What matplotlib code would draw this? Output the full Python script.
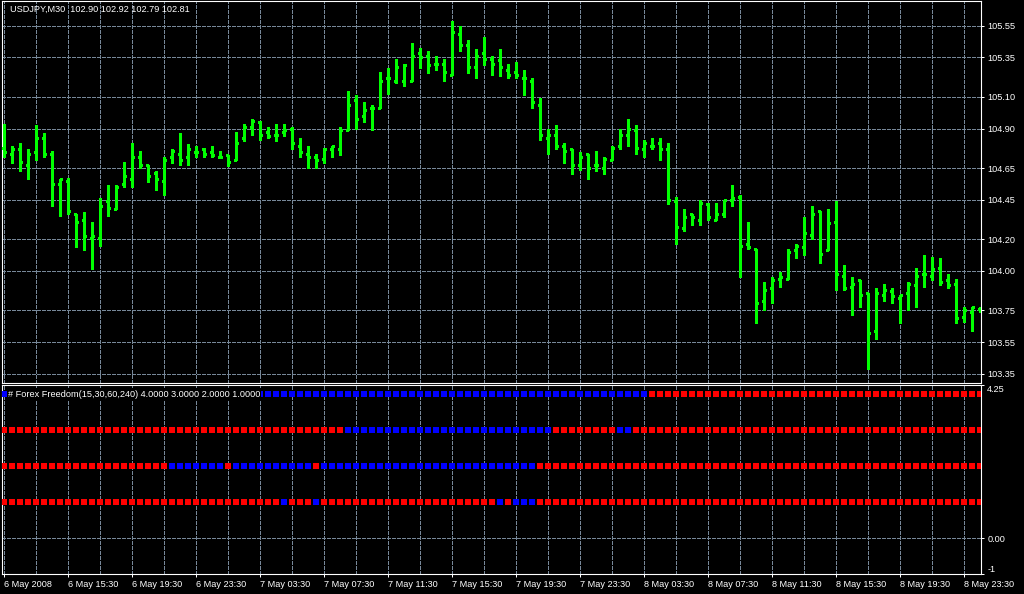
import matplotlib
matplotlib.use('Agg')
import matplotlib.pyplot as plt
import numpy as np

plt.rcParams['font.family'] = ['Liberation Sans', 'DejaVu Sans']
plt.rcParams['lines.antialiased'] = False

# USDJPY M30 bars, 6 May 2008 11:30 .. 9 May 00:30
opens = [104.78, 104.74, 104.77, 104.67, 104.75, 104.84, 104.74, 104.55, 104.57, 104.36,
         104.32, 104.21, 104.21, 104.44, 104.39, 104.55, 104.58, 104.72, 104.67, 104.62,
         104.57, 104.72, 104.74, 104.72, 104.75, 104.77, 104.75, 104.72, 104.73, 104.70,
         104.84, 104.91, 104.94, 104.88, 104.86, 104.88, 104.90, 104.79, 104.74, 104.72,
         104.71, 104.77, 104.77, 104.89, 105.08, 104.98, 105.03, 105.03, 105.22, 105.20,
         105.20, 105.20, 105.38, 105.36, 105.31, 105.31, 105.24, 105.50, 105.43, 105.29,
         105.38, 105.34, 105.33, 105.27, 105.26, 105.22, 105.20, 105.05, 104.84, 104.86,
         104.79, 104.77, 104.67, 104.74, 104.67, 104.65, 104.70, 104.79, 104.86, 104.89,
         104.77, 104.79, 104.81, 104.77, 104.44, 104.27, 104.36, 104.32, 104.42, 104.32,
         104.36, 104.45, 104.47, 104.17, 104.14, 103.81, 103.89, 103.95, 103.95, 104.13,
         104.15, 104.23, 104.38, 104.13, 104.31, 103.97, 103.90, 103.94, 103.86, 103.62,
         103.85, 103.87, 103.83, 103.86, 103.91, 103.98, 103.97, 104.02, 103.94, 103.92,
         103.71, 103.74, 103.76]
highs = [104.93, 104.79, 104.81, 104.77, 104.92, 104.87, 104.76, 104.58, 104.59, 104.36,
         104.37, 104.31, 104.46, 104.54, 104.54, 104.69, 104.81, 104.76, 104.67, 104.63,
         104.72, 104.77, 104.87, 104.80, 104.79, 104.78, 104.79, 104.76, 104.73, 104.88,
         104.93, 104.96, 104.95, 104.91, 104.93, 104.93, 104.91, 104.84, 104.79, 104.74,
         104.78, 104.79, 104.91, 105.14, 105.11, 105.07, 105.05, 105.26, 105.28, 105.34,
         105.31, 105.44, 105.41, 105.39, 105.36, 105.34, 105.58, 105.55, 105.46, 105.40,
         105.48, 105.36, 105.40, 105.31, 105.32, 105.27, 105.22, 105.09, 104.90, 104.92,
         104.81, 104.77, 104.75, 104.74, 104.76, 104.72, 104.79, 104.90, 104.96, 104.92,
         104.83, 104.84, 104.84, 104.81, 104.47, 104.39, 104.36, 104.45, 104.43, 104.43,
         104.45, 104.54, 104.48, 104.31, 104.14, 103.93, 103.96, 103.99, 104.14, 104.17,
         104.34, 104.41, 104.38, 104.39, 104.44, 104.04, 103.96, 103.94, 103.86, 103.89,
         103.92, 103.89, 103.85, 103.93, 104.02, 104.10, 104.09, 104.08, 103.98, 103.95,
         103.77, 103.77, 103.77]
lows = [104.72, 104.68, 104.63, 104.58, 104.70, 104.72, 104.41, 104.35, 104.36, 104.15,
        104.13, 104.01, 104.16, 104.35, 104.39, 104.53, 104.53, 104.65, 104.56, 104.51,
        104.48, 104.68, 104.67, 104.67, 104.72, 104.72, 104.72, 104.72, 104.66, 104.70,
        104.82, 104.86, 104.83, 104.84, 104.82, 104.85, 104.77, 104.72, 104.65, 104.65,
        104.68, 104.72, 104.73, 104.89, 104.90, 104.94, 104.89, 105.03, 105.12, 105.19,
        105.17, 105.20, 105.28, 105.25, 105.27, 105.20, 105.24, 105.39, 105.25, 105.22,
        105.30, 105.24, 105.23, 105.22, 105.22, 105.11, 105.03, 104.83, 104.74, 104.77,
        104.68, 104.61, 104.64, 104.58, 104.63, 104.61, 104.70, 104.77, 104.79, 104.74,
        104.72, 104.77, 104.70, 104.42, 104.17, 104.25, 104.29, 104.29, 104.32, 104.32,
        104.34, 104.41, 103.96, 104.14, 103.67, 103.75, 103.80, 103.90, 103.95, 104.08,
        104.10, 104.20, 104.05, 104.13, 103.88, 103.88, 103.72, 103.77, 103.38, 103.57,
        103.81, 103.80, 103.67, 103.75, 103.77, 103.90, 103.94, 103.91, 103.89, 103.67,
        103.68, 103.62, 103.74]
closes = [104.75, 104.77, 104.69, 104.74, 104.84, 104.74, 104.55, 104.58, 104.38, 104.31,
          104.22, 104.22, 104.41, 104.40, 104.53, 104.60, 104.72, 104.67, 104.60, 104.58,
          104.70, 104.76, 104.70, 104.77, 104.75, 104.74, 104.73, 104.72, 104.69, 104.81,
          104.91, 104.95, 104.86, 104.85, 104.86, 104.89, 104.81, 104.75, 104.72, 104.70,
          104.77, 104.79, 104.89, 105.05, 104.96, 105.02, 105.03, 105.20, 105.22, 105.29,
          105.30, 105.36, 105.35, 105.30, 105.31, 105.26, 105.51, 105.43, 105.29, 105.36,
          105.34, 105.31, 105.29, 105.24, 105.24, 105.22, 105.07, 104.86, 104.86, 104.79,
          104.76, 104.67, 104.72, 104.65, 104.67, 104.71, 104.78, 104.86, 104.90, 104.78,
          104.81, 104.79, 104.77, 104.45, 104.28, 104.34, 104.34, 104.43, 104.34, 104.36,
          104.45, 104.46, 104.16, 104.15, 103.80, 103.88, 103.94, 103.96, 104.12, 104.16,
          104.24, 104.36, 104.11, 104.30, 103.98, 103.89, 103.92, 103.85, 103.61, 103.86,
          103.88, 103.84, 103.85, 103.92, 103.97, 103.98, 104.01, 103.93, 103.91, 103.70,
          103.75, 103.77, 103.76]

price_levels = [105.55, 105.35, 105.10, 104.90, 104.65, 104.45, 104.20, 104.00, 103.75, 103.55, 103.35]

time_labels = ['6 May 2008', '6 May 15:30', '6 May 19:30', '6 May 23:30', '7 May 03:30',
               '7 May 07:30', '7 May 11:30', '7 May 15:30', '7 May 19:30', '7 May 23:30',
               '8 May 03:30', '8 May 07:30', '8 May 11:30', '8 May 15:30', '8 May 19:30',
               '8 May 23:30']

# Forex Freedom lines (level -> bar ranges where the signal is blue, red elsewhere)
ff_levels = [4, 3, 2, 1]
ff_blue_runs = {
    4: [(0, 80)],
    3: [(43, 68), (77, 78)],
    2: [(21, 27), (29, 38), (40, 66)],
    1: [(35, 35), (39, 39), (62, 62), (64, 66)],
}

n = len(opens)
x = np.arange(n)
W, H = 1024, 594
fg = 'white'
grid_kw = dict(color='#778899', linewidth=0.72, linestyle=(0, (4, 2)))

fig = plt.figure(figsize=(W / 100, H / 100), dpi=100, facecolor='black')
ax = fig.add_axes([2 / W, 1 - 383 / H, 979 / W, 382 / H], facecolor='black')
ax_ind = fig.add_axes([2 / W, 1 - 574 / H, 979 / W, 189 / H], facecolor='black')

# price bars
bar_kw = dict(colors='#00ff00', linewidth=0.8, antialiased=False, zorder=3)
ax.vlines(x, lows, highs, **bar_kw)
ax.hlines(opens, x - 0.25, x, **bar_kw)
ax.hlines(closes, x, x + 0.25, **bar_kw)

for a in (ax, ax_ind):
    a.set_xlim(-0.25, n - 0.875)
    for s in a.spines.values():
        s.set_color(fg)
        s.set_linewidth(0.8)
    a.yaxis.tick_right()
    a.tick_params(axis='y', colors=fg, labelsize=6.6, length=2.5, width=0.72, pad=2)
    a.set_axisbelow(True)

grid_pos = np.arange(0, n, 4)
label_pos = np.arange(0, n, 8)[:len(time_labels)]

ax.set_ylim(103.2915, 105.706)
ax.set_yticks(price_levels)
ax.set_yticklabels([f'{v:.2f}' for v in price_levels])
ax.set_xticks(grid_pos)
ax.tick_params(axis='x', length=0, labelbottom=False)
ax.grid(True, **grid_kw)
ax.text(8 / 979, 0.979, 'USDJPY,M30  102.90 102.92 102.79 102.81', transform=ax.transAxes,
        color=fg, fontsize=6.6, va='center', ha='left')

# indicator panel
for lvl in ff_levels:
    cols = np.array(['#ff0000'] * n, dtype=object)
    for a0, a1 in ff_blue_runs[lvl]:
        cols[a0:a1 + 1] = '#0000ff'
    ax_ind.scatter(x, np.full(n, lvl), c=list(cols), marker='s', s=13, linewidths=0,
                   antialiased=False, zorder=3)

ax_ind.set_ylim(-1, 4.25)
ax_ind.set_yticks([4.25, 0, -1])
ax_ind.set_yticklabels(['4.25', '0.00', '-1'])
ylbls = ax_ind.get_yticklabels()
ylbls[0].set_va('top')
ylbls[2].set_va('bottom')
ax_ind.set_xticks(label_pos)
ax_ind.set_xticklabels(time_labels)
ax_ind.set_xticks(grid_pos, minor=True)
ax_ind.tick_params(axis='x', which='major', colors=fg, labelsize=6.6, length=2.5, width=0.72, pad=2)
ax_ind.tick_params(axis='x', which='minor', length=0)
for lbl in ax_ind.get_xticklabels():
    lbl.set_ha('left')
ax_ind.grid(True, which='both', axis='x', **grid_kw)
ax_ind.grid(True, axis='y', **grid_kw)
ax_ind.text(6 / 979, 0.952, '# Forex Freedom(15,30,60,240) 4.0000 3.0000 2.0000 1.0000',
            transform=ax_ind.transAxes, color=fg, fontsize=6.6, va='center', ha='left', zorder=5,
            bbox=dict(facecolor='black', edgecolor='none', pad=0.8))

fig.savefig('out.png', dpi=100, facecolor='black')
